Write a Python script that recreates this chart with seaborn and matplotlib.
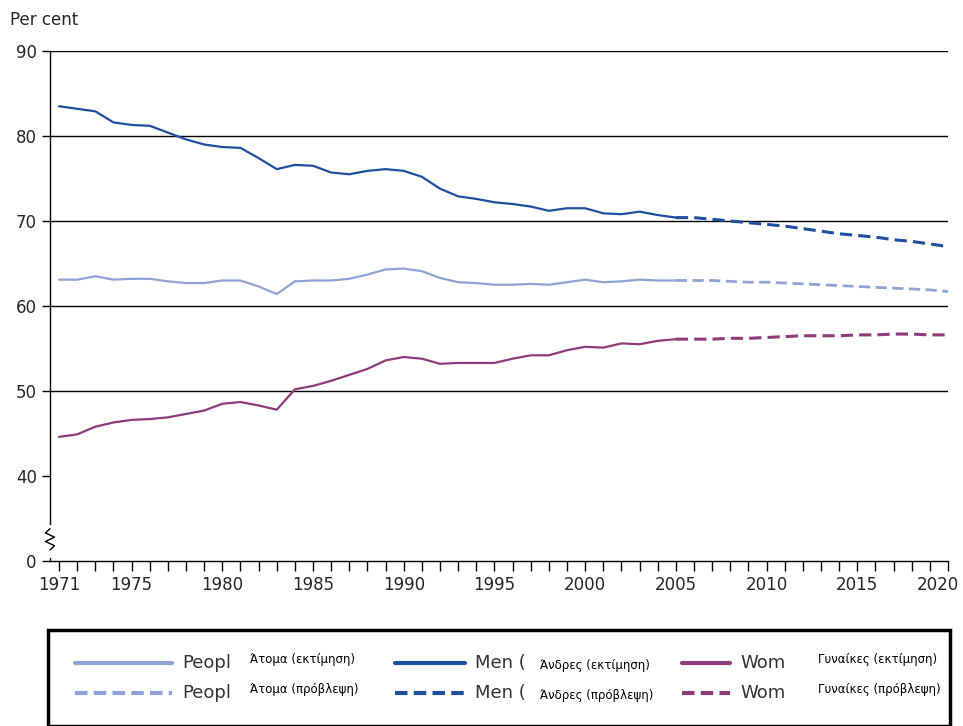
import matplotlib
matplotlib.use('Agg')
import matplotlib.pyplot as plt
import matplotlib.transforms as mtransforms
import seaborn as sns
import pandas as pd
import numpy as np
from matplotlib.patches import Rectangle
from matplotlib.lines import Line2D

PEOPLE_C = "#8fa3d6"
MEN_C = "#1f4f9e"
WOMEN_C = "#8e3b7c"

years_est = list(range(1971, 2006))
years_proj = list(range(2005, 2021))

men_est = [83.5, 83.2, 82.9, 81.6, 81.3, 81.2, 80.4, 79.6, 79.0, 78.7, 78.6, 77.4, 76.1, 76.6, 76.5,
           75.7, 75.5, 75.9, 76.1, 75.9, 75.2, 73.8, 72.9, 72.6, 72.2, 72.0, 71.7, 71.2, 71.5, 71.5,
           70.9, 70.8, 71.1, 70.7, 70.4]
men_proj = [70.4, 70.4, 70.2, 70.0, 69.8, 69.6, 69.4, 69.1, 68.8, 68.5, 68.3, 68.1, 67.8, 67.6, 67.3, 67.0]
people_est = [63.1, 63.1, 63.5, 63.1, 63.2, 63.2, 62.9, 62.7, 62.7, 63.0, 63.0, 62.3, 61.4, 62.9, 63.0,
              63.0, 63.2, 63.7, 64.3, 64.4, 64.1, 63.3, 62.8, 62.7, 62.5, 62.5, 62.6, 62.5, 62.8, 63.1,
              62.8, 62.9, 63.1, 63.0, 63.0]
people_proj = [63.0, 63.0, 63.0, 62.9, 62.8, 62.8, 62.7, 62.6, 62.5, 62.4, 62.3, 62.2, 62.1, 62.0, 61.9, 61.7]
women_est = [44.6, 44.9, 45.8, 46.3, 46.6, 46.7, 46.9, 47.3, 47.7, 48.5, 48.7, 48.3, 47.8, 50.2, 50.6,
             51.2, 51.9, 52.6, 53.6, 54.0, 53.8, 53.2, 53.3, 53.3, 53.3, 53.8, 54.2, 54.2, 54.8, 55.2,
             55.1, 55.6, 55.5, 55.9, 56.1]
women_proj = [56.1, 56.1, 56.1, 56.2, 56.2, 56.3, 56.4, 56.5, 56.5, 56.5, 56.6, 56.6, 56.7, 56.7, 56.6, 56.6]

y_ticks = [0, 40, 50, 60, 70, 80, 90]
x_ticks = [1971, 1975, 1980, 1985, 1990, 1995, 2000, 2005, 2010, 2015, 2020]

sns.set_theme(style="white")
plt.rcParams['font.family'] = ['DejaVu Sans']

# broken axis: 0..40 squeezed into one 10-unit step
OFFSET = 30
def sh(v):
    return [x - OFFSET for x in v]

fig = plt.figure(figsize=(9.63, 7.26), dpi=100)
ax = fig.add_axes([50 / 963, 1 - 561 / 726, 898 / 963, 510 / 726])

ax.set_facecolor("white")
for yv in [50, 60, 70, 80, 90]:
    ax.axhline(yv - OFFSET, color="black", lw=1, zorder=1)

sns.lineplot(x=years_est, y=sh(people_est), color=PEOPLE_C, lw=1.6, ax=ax)
sns.lineplot(x=years_proj, y=sh(people_proj), color=PEOPLE_C, lw=2, ls=(0, (4, 2)), ax=ax)
sns.lineplot(x=years_est, y=sh(men_est), color=MEN_C, lw=1.6, ax=ax)
sns.lineplot(x=years_proj, y=sh(men_proj), color=MEN_C, lw=2.2, ls=(0, (4, 2)), ax=ax)
sns.lineplot(x=years_est, y=sh(women_est), color=WOMEN_C, lw=1.6, ax=ax)
sns.lineplot(x=years_proj, y=sh(women_proj), color=WOMEN_C, lw=2.2, ls=(0, (4, 2)), ax=ax)

ax.set_xlim(1970.5, 2020)
ax.set_ylim(0, 60)
ax.set_yticks([0 if t == 0 else t - OFFSET for t in y_ticks])
ax.set_yticklabels([str(t) for t in y_ticks], fontsize=12)
ax.set_xticks(x_ticks)
ax.set_xticklabels([str(t) for t in x_ticks], fontsize=12)
ax.set_xticks(range(1971, 2021), minor=True)
ax.tick_params(axis='x', which='both', direction='out', length=7, width=1, color='black', bottom=True)
ax.tick_params(axis='y', direction='out', length=6, width=1, color='black', left=True)
last = ax.get_xticklabels()[-1]
last.set_transform(last.get_transform() + mtransforms.ScaledTranslation(-10 / 100, 0, fig.dpi_scale_trans))
for s in ['top', 'right']:
    ax.spines[s].set_visible(False)
for s in ['left', 'bottom']:
    ax.spines[s].set_color('black')
    ax.spines[s].set_linewidth(1)

# zigzag break on y axis
zx = np.array([0, -0.25, 0.25, -0.25, 0.25, 0]) + 1970.5
zy = np.array([3.2, 2.7, 2.2, 1.7, 1.2, 0.7]) + 0.6
ax.plot([1970.5, 1970.5], [0.6, 4.0], color='white', lw=3, clip_on=False, zorder=5)
ax.plot(zx, zy, color='black', lw=1, clip_on=False, zorder=6)

fig.text(10 / 963, 1 - 20 / 726, "Per cent", fontsize=12, va='center')

# legend box
fig.patches.append(Rectangle((48 / 963, 0), 902 / 963, 96 / 726, transform=fig.transFigure,
                             fill=False, edgecolor='black', lw=2.5))
rows = [1 - 663 / 726, 1 - 693 / 726]
cols = [(75, 172, 182, "Peopl", 250, ["Άτομα (εκτίμηση)", "Άτομα (πρόβλεψη)"], PEOPLE_C, 0),
        (395, 465, 475, "Men (", 540, ["Άνδρες (εκτίμηση)", "Άνδρες (πρόβλεψη)"], MEN_C, 5),
        (682, 730, 740, "Wom", 818, ["Γυναίκες (εκτίμηση)", "Γυναίκες (πρόβλεψη)"], WOMEN_C, 0)]
for x0, x1, xt, eng, xg, greek, c, gdy in cols:
    for i, ry in enumerate(rows):
        ls = '-' if i == 0 else (0, (3, 1.5))
        fig.add_artist(Line2D([x0 / 963, x1 / 963], [ry, ry], color=c, lw=3, ls=ls,
                              transform=fig.transFigure))
        fig.text(xt / 963, ry, eng, fontsize=13, va='center', color='#333333')
        fig.text(xg / 963, ry + 3 / 726 - gdy / 726, greek[i], fontsize=8.5, va='center',
                 color='black')

fig.savefig("out.png", dpi=100)
